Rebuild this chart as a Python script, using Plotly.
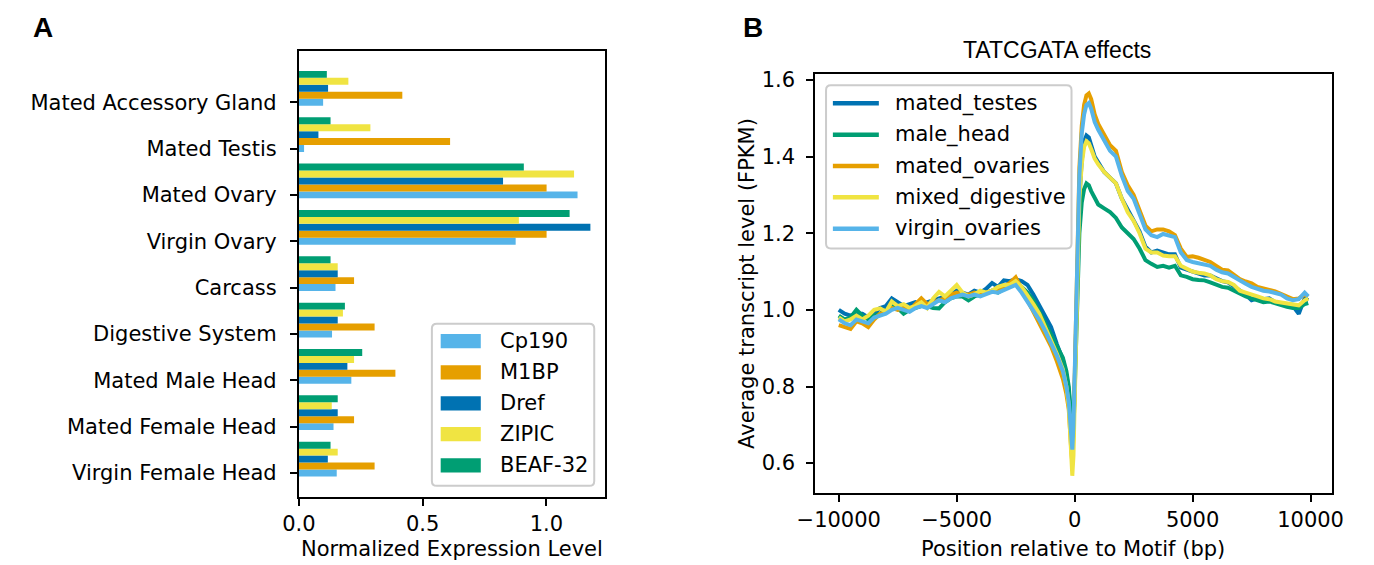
import plotly.graph_objects as go

# the page body has an 8px margin, so the figure is offset by 8px
OFF = 8
W, H = 1374 - OFF, 565 - OFF

# ---------------- Panel A data ----------------
categories = ["Virgin Female Head", "Mated Female Head", "Mated Male Head", "Digestive System",
              "Carcass", "Virgin Ovary", "Mated Ovary", "Mated Testis", "Mated Accessory Gland"]
bar_series = ["Cp190", "M1BP", "Dref", "ZIPIC", "BEAF-32"]
cp190 = [0.153, 0.140, 0.212, 0.134, 0.148, 0.876, 1.126, 0.021, 0.098]
m1bp = [0.306, 0.223, 0.390, 0.306, 0.223, 1.001, 1.001, 0.611, 0.418]
dref = [0.117, 0.157, 0.196, 0.157, 0.157, 1.178, 0.825, 0.079, 0.118]
zipic = [0.157, 0.133, 0.223, 0.178, 0.157, 0.889, 1.112, 0.289, 0.200]
beaf32 = [0.128, 0.157, 0.256, 0.186, 0.128, 1.094, 0.909, 0.128, 0.113]
bar_colors = ["#56B4E9", "#E69F00", "#0072B2", "#F0E442", "#009E73"]
x_ticks_a = [0.0, 0.5, 1.0]
x_ticktext_a = ["0.0", "0.5", "1.0"]

# ---------------- Panel B data ----------------
position = [-10000, -9750, -9500, -9250, -9000, -8750, -8500, -8250, -8000, -7750, -7500, -7250,
            -7000, -6750, -6500, -6250, -6000, -5750, -5500, -5250, -5000, -4750, -4500, -4250,
            -4000, -3750, -3500, -3250, -3000, -2750, -2500, -2250, -2000, -1750, -1500, -1250,
            -1000, -750, -500,
            -350, -250, -150, -100, -50, 0, 50, 100, 150, 200, 300, 400, 500, 600, 700, 850, 1000,
            1250, 1500, 1750, 2000, 2250, 2500, 2750, 3000, 3250, 3500, 3750, 4000, 4250, 4500,
            4750, 5000, 5250, 5500, 5750, 6000, 6250, 6500, 6750, 7000, 7250, 7500, 7750, 8000,
            8250, 8500, 8750, 9000, 9250, 9500, 9750, 9900]

mated_testes = [1.0, 0.99, 0.985, 0.99, 0.99, 0.98, 0.99, 1.005, 1.01, 1.03, 1.02, 1.01,
                1.015, 1.02, 1.015, 1.02, 1.025, 1.03, 1.035, 1.04, 1.05, 1.045, 1.04, 1.05,
                1.045, 1.055, 1.07, 1.06, 1.077, 1.075, 1.08, 1.075, 1.065, 1.04, 1.012, 0.98,
                0.955, 0.91, 0.87,
                0.83, 0.79, 0.70, 0.645, 0.68, 0.80, 0.95, 1.08, 1.2, 1.29, 1.39, 1.44, 1.455, 1.45, 1.43, 1.40, 1.385,
                1.36, 1.345, 1.33, 1.29, 1.26, 1.235, 1.205, 1.165, 1.15, 1.155, 1.15, 1.145, 1.145, 1.11,
                1.105, 1.1, 1.095, 1.09, 1.09, 1.082, 1.075, 1.072, 1.062, 1.05, 1.04, 1.025, 1.03, 1.028,
                1.03, 1.02, 1.015, 1.012, 1.01, 0.99, 1.03, 1.025]

male_head = [0.985, 0.975, 0.98, 1.0, 0.985, 0.975, 0.985, 0.99, 1.0, 1.01, 1.005, 0.99,
             1.0, 1.005, 1.01, 1.01, 1.005, 1.004, 1.02, 1.03, 1.035, 1.035, 1.025, 1.035,
             1.04, 1.045, 1.05, 1.045, 1.055, 1.065, 1.07, 1.06, 1.045, 1.025, 0.995, 0.965,
             0.94, 0.905, 0.875,
             0.84, 0.80, 0.72, 0.665, 0.68, 0.78, 0.90, 1.02, 1.12, 1.2, 1.28, 1.315, 1.33, 1.325, 1.31, 1.29, 1.275,
             1.265, 1.255, 1.24, 1.215, 1.2, 1.185, 1.16, 1.13, 1.12, 1.112, 1.115, 1.11, 1.115, 1.09,
             1.086, 1.08, 1.078, 1.077, 1.072, 1.066, 1.06, 1.058, 1.05, 1.042, 1.035, 1.03, 1.025, 1.02,
             1.022, 1.017, 1.012, 1.008, 1.005, 1.005, 1.015, 1.018]

mated_ovaries = [0.96, 0.955, 0.95, 0.97, 0.965, 0.955, 0.975, 0.99, 0.995, 1.005, 1.0, 1.005,
                 1.0, 1.015, 1.03, 1.015, 1.02, 1.025, 1.03, 1.04, 1.045, 1.04, 1.04, 1.045,
                 1.04, 1.045, 1.05, 1.05, 1.06, 1.07, 1.085, 1.055, 1.03, 1.0, 0.97, 0.935,
                 0.905, 0.865, 0.82,
                 0.78, 0.74, 0.64, 0.60, 0.68, 0.82, 0.99, 1.14, 1.27, 1.37, 1.48, 1.535, 1.56, 1.565, 1.55, 1.51, 1.485,
                 1.455, 1.43, 1.415, 1.36, 1.325, 1.30, 1.26, 1.22, 1.205, 1.21, 1.21, 1.205, 1.195, 1.16,
                 1.138, 1.14, 1.136, 1.13, 1.125, 1.115, 1.105, 1.103, 1.092, 1.08, 1.074, 1.069, 1.06, 1.055,
                 1.052, 1.048, 1.042, 1.035, 1.028, 1.03, 1.04, 1.035]

mixed_digestive = [0.98, 0.97, 0.975, 0.985, 0.975, 0.985, 1.0, 1.004, 0.995, 1.022, 1.01, 1.015,
                   1.005, 1.01, 1.02, 1.005, 1.03, 1.047, 1.035, 1.05, 1.065, 1.045, 1.035, 1.04,
                   1.05, 1.045, 1.05, 1.06, 1.065, 1.065, 1.075, 1.06, 1.039, 1.015, 0.99, 0.955,
                   0.925, 0.885, 0.845,
                   0.80, 0.75, 0.62, 0.567, 0.62, 0.76, 0.93, 1.08, 1.20, 1.29, 1.38, 1.425, 1.44, 1.435, 1.42, 1.395, 1.38,
                   1.36, 1.345, 1.33, 1.29, 1.255, 1.232, 1.2, 1.16, 1.15, 1.15, 1.142, 1.14, 1.14, 1.115,
                   1.108, 1.1, 1.097, 1.095, 1.09, 1.08, 1.075, 1.073, 1.065, 1.05, 1.045, 1.039, 1.035, 1.03,
                   1.028, 1.022, 1.02, 1.018, 1.015, 1.012, 1.025, 1.03]

virgin_ovaries = [0.975, 0.965, 0.96, 0.975, 0.97, 0.965, 0.98, 0.985, 0.99, 1.0, 1.005, 1.0,
                  0.995, 1.005, 1.01, 1.005, 1.015, 1.025, 1.02, 1.03, 1.035, 1.04, 1.035, 1.04,
                  1.035, 1.04, 1.047, 1.045, 1.052, 1.06, 1.065, 1.045, 1.022, 1.0, 0.974, 0.945,
                  0.915, 0.88, 0.84,
                  0.80, 0.76, 0.68, 0.635, 0.70, 0.82, 0.98, 1.12, 1.25, 1.35, 1.46, 1.51, 1.535, 1.54, 1.525, 1.49, 1.47,
                  1.44, 1.415, 1.40, 1.35, 1.31, 1.29, 1.25, 1.21, 1.195, 1.19, 1.198, 1.195, 1.19, 1.15,
                  1.13, 1.125, 1.122, 1.118, 1.115, 1.105, 1.098, 1.095, 1.085, 1.075, 1.068, 1.06, 1.055, 1.05,
                  1.048, 1.045, 1.04, 1.03, 1.025, 1.028, 1.045, 1.035]

line_names = ["mated_testes", "male_head", "mated_ovaries", "mixed_digestive", "virgin_ovaries"]
line_colors = ["#0072B2", "#009E73", "#E69F00", "#F0E442", "#56B4E9"]
x_ticks_b = [-10000, -5000, 0, 5000, 10000]
x_ticktext_b = ["\u221210000", "\u22125000", "0", "5000", "10000"]
y_ticks_b = [0.6, 0.8, 1.0, 1.2, 1.4, 1.6]
y_ticktext_b = ["0.6", "0.8", "1.0", "1.2", "1.4", "1.6"]

# ---------------- build figure ----------------
FONT = "DejaVu Sans"
fig = go.Figure()

bar_values = [cp190, m1bp, dref, zipic, beaf32]
bar_h = 0.15
base_pos = list(range(len(categories)))
for i, (name, vals, col) in enumerate(zip(bar_series, bar_values, bar_colors)):
    fig.add_trace(go.Bar(
        x=vals, y=[p + i * bar_h for p in base_pos], orientation="h", width=bar_h,
        marker=dict(color=col, line=dict(width=0)), name=name, showlegend=False,
        xaxis="x", yaxis="y"))

line_values = [mated_testes, male_head, mated_ovaries, mixed_digestive, virgin_ovaries]
for name, vals, col in zip(line_names, line_values, line_colors):
    fig.add_trace(go.Scatter(
        x=position, y=vals, mode="lines", name=name, showlegend=False,
        line=dict(color=col, width=4), xaxis="x2", yaxis="y2"))


def px(x):
    return (x - OFF) / W


def py(y):
    return 1 - (y - OFF) / H


axis_common = dict(showline=True, linecolor="black", linewidth=2, mirror=True,
                   ticks="outside", ticklen=7, tickwidth=2, tickcolor="black",
                   showgrid=False, zeroline=False,
                   tickfont=dict(family=FONT, size=21, color="black"))

fig.update_layout(
    width=W, height=H, margin=dict(l=0, r=0, t=0, b=0),
    paper_bgcolor="white", plot_bgcolor="white", barmode="overlay",
    xaxis=dict(domain=[px(287), px(600)], range=[0, 1.237], anchor="y",
               tickvals=x_ticks_a, ticktext=x_ticktext_a, **axis_common),
    yaxis=dict(domain=[py(496), py(45)], range=[-0.5125, 9.1125], anchor="x",
               tickvals=base_pos, ticktext=categories, ticklabelstandoff=9, **axis_common),
    xaxis2=dict(domain=[px(815), px(1343)], range=[-10995, 10895], anchor="y2",
                tickvals=x_ticks_b, ticktext=x_ticktext_b, **axis_common),
    yaxis2=dict(domain=[py(492), py(69)], range=[0.5226, 1.6147], anchor="x2",
                tickvals=y_ticks_b, ticktext=y_ticktext_b, ticklabelstandoff=7, **axis_common),
)

annotations = []
shapes = []


def text(x, y, s, size=21, family=FONT, xanchor="center", angle=0):
    annotations.append(dict(x=px(x), y=py(y), xref="paper", yref="paper", text=s,
                            showarrow=False, xanchor=xanchor, yanchor="middle",
                            textangle=angle, font=dict(family=family, size=size, color="black")))


def rounded_box(x0, y0, x1, y1, r=5):
    pts = (f"M{px(x0 + r)},{py(y0)} L{px(x1 - r)},{py(y0)} Q{px(x1)},{py(y0)} {px(x1)},{py(y0 + r)} "
           f"L{px(x1)},{py(y1 - r)} Q{px(x1)},{py(y1)} {px(x1 - r)},{py(y1)} "
           f"L{px(x0 + r)},{py(y1)} Q{px(x0)},{py(y1)} {px(x0)},{py(y1 - r)} "
           f"L{px(x0)},{py(y0 + r)} Q{px(x0)},{py(y0)} {px(x0 + r)},{py(y0)} Z")
    shapes.append(dict(type="path", path=pts, xref="paper", yref="paper",
                       fillcolor="rgba(255,255,255,0.8)", line=dict(color="#cccccc", width=2)))


# panel letters, titles
text(13, 22, "<b>A</b>", size=28, family="Liberation Sans", xanchor="left")
text(739, 22, "<b>B</b>", size=28, family="Liberation Sans", xanchor="left")
text(1062, 44, "TATCGATA effects", size=23, family="Liberation Sans")
text(443.5, 549, "Normalized Expression Level")
text(1079, 549, "Position relative to Motif (bp)")
text(745, 280, "Average transcript level (FPKM)", angle=-90)

# legend A (manual)
rounded_box(423, 321, 589, 485)
leg_a_y = [338.8, 370.2, 401.5, 432.8, 464.2]
for name, col, yy in zip(bar_series, bar_colors, leg_a_y):
    shapes.append(dict(type="rect", xref="paper", yref="paper", x0=px(432), x1=px(473),
                       y0=py(yy + 7.2), y1=py(yy - 7.2), fillcolor=col, line=dict(width=0)))
    text(491, yy, name, xanchor="left")

# legend B (manual)
rounded_box(826, 80, 1077, 245)
leg_b_y = [98.3, 130, 161.7, 193.3, 225]
for name, col, yy in zip(line_names, line_colors, leg_b_y):
    shapes.append(dict(type="line", xref="paper", yref="paper", x0=px(833), x1=px(880),
                       y0=py(yy), y1=py(yy), line=dict(color=col, width=4.5)))
    text(894, yy, name, xanchor="left")

fig.update_layout(annotations=annotations, shapes=shapes)
fig.write_html("out.html")
